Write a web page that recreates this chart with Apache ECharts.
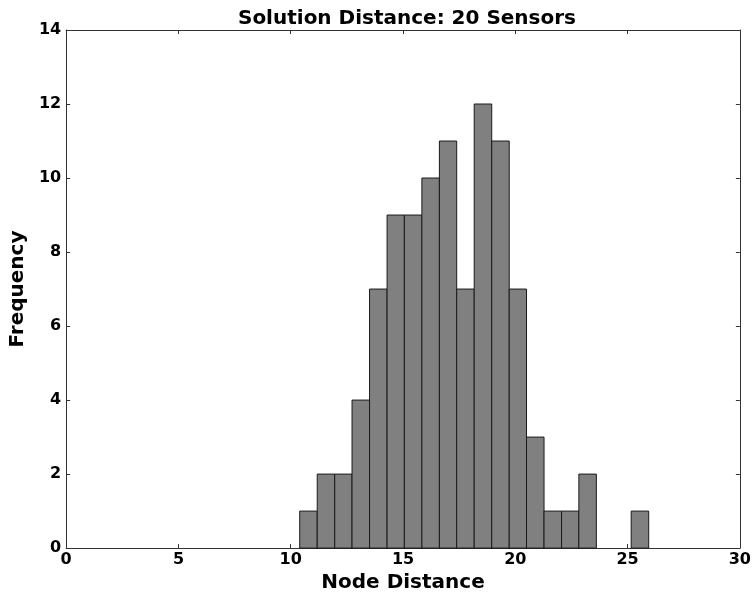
<!DOCTYPE html>
<html>
<head>
<meta charset="utf-8">
<script src="https://cdn.jsdelivr.net/npm/echarts@6/dist/echarts.min.js"></script>
<style>
  html, body { margin: 0; padding: 0; background: #fff; }
  #chart { width: 754px; height: 598px; }
</style>
</head>
<body>
<div id="chart"></div>
<script>
// histogram bin edges and counts per bin
const binEdges = [10.40, 11.18, 11.96, 12.73, 13.51, 14.29, 15.06, 15.84, 16.62, 17.39,
  18.17, 18.95, 19.73, 20.50, 21.28, 22.06, 22.83, 23.61, 24.39, 25.16, 25.94];
const counts = [1, 2, 2, 4, 7, 9, 9, 10, 11, 7, 12, 11, 7, 3, 1, 1, 2, 0, 0, 1];
const xTicks = [0, 5, 10, 15, 20, 25, 30];
const yTicks = [0, 2, 4, 6, 8, 10, 12, 14];

const bins = counts.map((c, i) => [binEdges[i], binEdges[i + 1], c]);

const font = "DejaVu Sans";
const axisColor = "#333";

const hiddenAxis = (pos, extra) => Object.assign({
  type: "value",
  position: pos,
  axisLine: { show: true, onZero: false, lineStyle: { color: axisColor, width: 1 } },
  axisTick: { show: true, inside: true, length: 4, lineStyle: { color: axisColor } },
  axisLabel: { show: false },
  splitLine: { show: false },
}, extra);

const chart = echarts.init(document.getElementById("chart"));
chart.setOption({
  animation: false,
  backgroundColor: "#fff",
  title: {
    text: "Solution Distance: 20 Sensors",
    left: 402,
    textAlign: "center",
    top: 4,
    textStyle: { fontFamily: font, fontWeight: "bold", fontSize: 20, color: "#000" },
  },
  grid: { left: 63, right: 12, top: 30, bottom: 44 },
  xAxis: [
    {
      type: "value",
      min: xTicks[0],
      max: xTicks[xTicks.length - 1],
      interval: 5,
      name: "Node Distance",
      nameLocation: "middle",
      nameGap: 22,
      nameTextStyle: { fontFamily: font, fontWeight: "bold", fontSize: 20, color: "#000", verticalAlign: "top" },
      axisLine: { show: true, onZero: false, lineStyle: { color: axisColor, width: 1 } },
      axisTick: { show: true, inside: true, length: 4, lineStyle: { color: axisColor } },
      axisLabel: { fontFamily: font, fontWeight: "bold", fontSize: 16, color: "#000", margin: 4 },
      splitLine: { show: false },
    },
    hiddenAxis("top", { min: 0, max: 30, interval: 5 }),
  ],
  yAxis: [
    {
      type: "value",
      min: yTicks[0],
      max: yTicks[yTicks.length - 1],
      interval: 2,
      name: "Frequency",
      nameLocation: "middle",
      nameGap: 26,
      nameRotate: 90,
      nameTextStyle: { fontFamily: font, fontWeight: "bold", fontSize: 20, color: "#000" },
      axisLine: { show: true, onZero: false, lineStyle: { color: axisColor, width: 1 } },
      axisTick: { show: true, inside: true, length: 4, lineStyle: { color: axisColor } },
      axisLabel: { fontFamily: font, fontWeight: "bold", fontSize: 16, color: "#000", margin: 5 },
      splitLine: { show: false },
    },
    hiddenAxis("right", { min: 0, max: 14, interval: 2 }),
  ],
  series: [
    {
      type: "custom",
      xAxisIndex: 0,
      yAxisIndex: 0,
      data: bins,
      encode: { x: [0, 1], y: 2 },
      renderItem: (params, api) => {
        const count = api.value(2);
        if (count <= 0) return null;
        const p0 = api.coord([api.value(0), count]);
        const p1 = api.coord([api.value(1), 0]);
        return {
          type: "rect",
          shape: { x: p0[0], y: p0[1], width: p1[0] - p0[0], height: p1[1] - p0[1] },
          style: { fill: "#808080", stroke: "#1a1a1a", lineWidth: 1 },
        };
      },
    },
  ],
});
</script>
</body>
</html>
